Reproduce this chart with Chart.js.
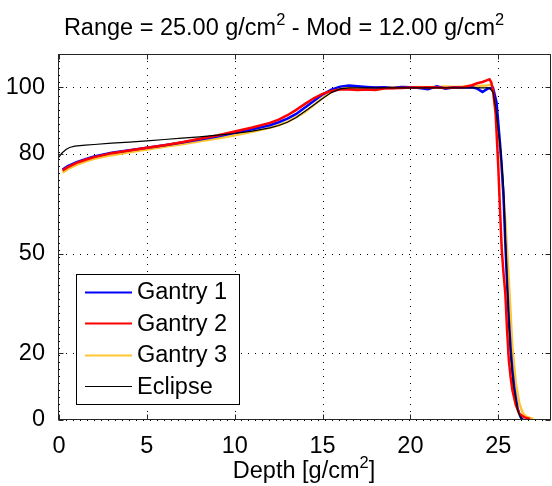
<!DOCTYPE html>
<html>
<head>
<meta charset="utf-8">
<title>Range 25 - Mod 12</title>
<script src="https://cdn.jsdelivr.net/npm/chart.js@4.4.0/dist/chart.umd.min.js"></script>
<style>
    html, body { margin: 0; padding: 0; background: #fff; }
    canvas { display: block; }
</style>
</head>
<body>
<canvas id="graficoPdd" width="552" height="486"></canvas>
<script>
// Curvas de dose em profundidade (profundidade em g/cm2, dose relativa em %)
const profGantry1 = [0.2, 0.5, 1, 1.5, 2, 3, 4, 5, 6, 7, 8, 9, 10, 11, 12, 12.5, 13, 13.5, 14, 14.5, 15, 15.5, 16, 16.5, 17, 17.5, 18, 18.5, 19, 19.5, 20, 20.5, 21, 21.5, 22, 22.5, 23, 23.5, 23.8, 24.1, 24.4, 24.7, 24.9, 25.1, 25.2, 25.3, 25.4, 25.5, 25.6, 25.7, 25.8, 25.9, 26.0, 26.1, 26.2, 26.3, 26.4];
const doseGantry1 = [75.3, 76.3, 77.5, 78.4, 79.2, 80.3, 81.1, 81.8, 82.6, 83.4, 84.3, 85.2, 86.3, 87.4, 88.6, 89.5, 90.6, 92.0, 93.9, 95.9, 97.8, 99.3, 100.2, 100.5, 100.3, 100.1, 99.9, 100.0, 99.8, 100.1, 100.0, 99.8, 99.4, 100.3, 99.6, 100.0, 99.9, 100.0, 99.6, 98.6, 99.6, 99.8, 95.5, 83.0, 76.0, 67.0, 53.0, 41.0, 30.0, 21.5, 15.0, 10.0, 6.5, 3.5, 1.8, 0.6, 0.1];

const profGantry2 = [0.2, 0.5, 1, 1.5, 2, 3, 4, 5, 6, 7, 8, 9, 10, 11, 12, 12.5, 13, 13.5, 14, 14.5, 15, 15.5, 16, 16.5, 17, 17.5, 18, 18.5, 19, 19.5, 20, 20.5, 21, 21.5, 22, 22.5, 23, 23.5, 23.8, 24.1, 24.3, 24.5, 24.6, 24.7, 24.85, 25.0, 25.1, 25.2, 25.3, 25.4, 25.5, 25.6, 25.7, 25.8, 26.0, 26.2, 26.5, 26.8];
const doseGantry2 = [75.0, 76.0, 77.3, 78.2, 79.0, 80.2, 81.0, 81.8, 82.6, 83.5, 84.5, 85.5, 86.7, 87.9, 89.3, 90.3, 91.6, 93.2, 95.0, 96.7, 98.0, 98.9, 99.3, 99.3, 99.2, 99.3, 99.2, 99.6, 99.7, 99.8, 99.9, 99.9, 100.0, 99.9, 99.8, 99.9, 100.0, 100.6, 101.2, 101.6, 102.0, 102.4, 101.5, 99.0, 92.0, 76.0, 63.0, 51.0, 44.0, 38.0, 27.0, 18.0, 13.0, 9.0, 4.5, 1.8, 0.8, 0.3];

const profGantry3 = [0.2, 0.5, 1, 1.5, 2, 3, 4, 5, 6, 7, 8, 9, 10, 11, 12, 12.5, 13, 13.5, 14, 14.5, 15, 15.5, 16, 16.5, 17, 17.5, 18, 18.5, 19, 19.5, 20, 20.5, 21, 21.5, 22, 22.5, 23, 23.5, 24, 24.3, 24.6, 24.8, 25.0, 25.2, 25.4, 25.6, 25.8, 26.0, 26.2, 26.4, 26.6, 26.8, 27.0];
const doseGantry3 = [74.3, 75.4, 76.7, 77.7, 78.5, 79.6, 80.5, 81.3, 82.1, 82.9, 83.8, 84.6, 85.6, 86.6, 87.8, 88.6, 89.6, 91.0, 92.6, 94.7, 96.8, 98.6, 99.7, 99.9, 99.8, 99.9, 100.0, 99.9, 100.0, 100.1, 100.0, 100.1, 100.0, 100.1, 100.2, 100.1, 100.2, 100.4, 100.4, 100.5, 100.8, 98.0, 88.0, 74.0, 60.0, 42.0, 22.0, 11.0, 5.0, 2.0, 1.0, 0.6, 0.3];

const profEclipse = [0, 0.1, 0.2, 0.4, 0.6, 0.9, 1.5, 2, 3, 4, 5, 6, 7, 8, 9, 10, 11, 12, 12.5, 13, 13.5, 14, 14.5, 15, 15.5, 16, 16.5, 17, 18, 19, 20, 21, 22, 23, 24, 24.5, 24.7, 24.85, 25.0, 25.15, 25.3, 25.4, 25.55, 25.7, 25.85, 26.0, 26.1, 26.25, 26.4];
const doseEclipse = [79.0, 79.8, 80.4, 81.3, 81.9, 82.3, 82.6, 82.8, 83.2, 83.5, 83.9, 84.3, 84.7, 85.1, 85.6, 86.1, 86.8, 87.8, 88.5, 89.5, 90.9, 92.8, 94.7, 96.6, 98.4, 99.5, 99.8, 99.8, 99.8, 99.8, 99.8, 99.8, 99.8, 99.8, 99.8, 99.8, 98.5, 94.0, 87.0, 80.5, 70.0, 55.0, 36.0, 20.0, 11.0, 6.0, 3.0, 1.0, 0.2];

const ticksX = [0, 5, 10, 15, 20, 25];
const ticksY = [0, 20, 50, 80, 100];

const nomes = ['Gantry 1', 'Gantry 2', 'Gantry 3', 'Eclipse'];
const cores = ['#0000ff', '#ff0000', '#ffc533', '#000000'];
const espessuras = [2.5, 2.5, 2.5, 1.2];

const FAMILIA = "'Liberation Sans', Arial, Helvetica, sans-serif";
const TAM = 23.5;

function pontos(prof, dose) {
    return prof.map((x, i) => ({ x: x, y: dose[i] }));
}

// Escreve texto com expoente (ex.: g/cm^2), centrado em xCentro
function textoComExpoente(ctx, partes, xCentro, yBase, tam) {
    let total = 0;
    partes.forEach(p => {
        ctx.font = (p[1] ? tam * 0.7 : tam) + 'px ' + FAMILIA;
        total += ctx.measureText(p[0]).width;
    });
    let x = xCentro - total / 2;
    ctx.textAlign = 'left';
    ctx.textBaseline = 'alphabetic';
    partes.forEach(p => {
        ctx.font = (p[1] ? tam * 0.7 : tam) + 'px ' + FAMILIA;
        ctx.fillText(p[0], x, p[1] ? yBase - tam * 0.42 : yBase);
        x += ctx.measureText(p[0]).width;
    });
}

// Grade pontilhada, moldura, marcas internas, legenda e textos
const moldura = {
    id: 'moldura',
    beforeDatasetsDraw(chart) {
        const ctx = chart.ctx;
        const a = chart.chartArea;
        const sx = chart.scales.x, sy = chart.scales.y;
        ctx.save();
        ctx.strokeStyle = '#000';
        ctx.lineWidth = 1;
        ctx.setLineDash([1, 6]);
        ticksX.forEach(v => {
            const px = Math.round(sx.getPixelForValue(v)) + 0.5;
            ctx.beginPath(); ctx.moveTo(px, a.top); ctx.lineTo(px, a.bottom); ctx.stroke();
        });
        ticksY.forEach(v => {
            const py = Math.round(sy.getPixelForValue(v)) + 0.5;
            ctx.beginPath(); ctx.moveTo(a.left, py); ctx.lineTo(a.right, py); ctx.stroke();
        });
        ctx.restore();
    },
    afterDatasetsDraw(chart) {
        const ctx = chart.ctx;
        const a = chart.chartArea;
        const sx = chart.scales.x, sy = chart.scales.y;
        ctx.save();
        ctx.setLineDash([]);
        ctx.strokeStyle = '#262626';
        ctx.lineWidth = 1;
        const L = Math.round(a.left) - 0.5, R = Math.round(a.right) - 0.5;
        const T = Math.round(a.top) + 0.5, B = Math.round(a.bottom) - 0.5;
        ctx.strokeRect(L, T, R - L, B - T);

        // marcas para dentro do eixo
        const m = 5;
        ticksX.forEach(v => {
            const px = Math.round(sx.getPixelForValue(v)) + 0.5;
            ctx.beginPath();
            ctx.moveTo(px, B); ctx.lineTo(px, B - m);
            ctx.moveTo(px, T); ctx.lineTo(px, T + m);
            ctx.stroke();
        });
        ticksY.forEach(v => {
            const py = Math.round(sy.getPixelForValue(v)) + 0.5;
            ctx.beginPath();
            ctx.moveTo(L, py); ctx.lineTo(L + m, py);
            ctx.moveTo(R, py); ctx.lineTo(R - m, py);
            ctx.stroke();
        });

        // legenda dentro do gráfico
        const lx = 76.5, ly = 274.5, lw = 163, lh = 130;
        ctx.fillStyle = '#fff';
        ctx.fillRect(lx, ly, lw, lh);
        ctx.strokeStyle = '#000';
        ctx.strokeRect(lx, ly, lw, lh);
        ctx.font = TAM + 'px ' + FAMILIA;
        ctx.textAlign = 'left';
        ctx.textBaseline = 'middle';
        nomes.forEach((nome, i) => {
            const y = 292 + i * 31.4;
            ctx.strokeStyle = cores[i];
            ctx.lineWidth = i < 3 ? 2 : 1;
            ctx.beginPath(); ctx.moveTo(85, Math.round(y) + 0.5); ctx.lineTo(132, Math.round(y) + 0.5); ctx.stroke();
            ctx.fillStyle = '#000';
            ctx.fillText(nome, 137, y + 1);
        });

        // título e rótulo do eixo x
        ctx.fillStyle = '#000';
        textoComExpoente(ctx, [['Range = 25.00 g/cm', false], ['2', true], [' - Mod = 12.00 g/cm', false], ['2', true]], 284, 35, TAM);
        textoComExpoente(ctx, [['Depth [g/cm', false], ['2', true], [']', false]], 304, 478, TAM);
        ctx.restore();
    }
};

const series = [
    pontos(profGantry1, doseGantry1),
    pontos(profGantry2, doseGantry2),
    pontos(profGantry3, doseGantry3),
    pontos(profEclipse, doseEclipse)
];
const ordens = [2, 1, 3, 0];

const ctx = document.getElementById('graficoPdd').getContext('2d');
window.graficoPdd = new Chart(ctx, {
    type: 'line',
    data: {
        datasets: series.map((dados, i) => ({
            label: nomes[i],
            data: dados,
            borderColor: cores[i],
            backgroundColor: cores[i],
            borderWidth: espessuras[i],
            pointRadius: 0,
            tension: 0,
            fill: false,
            order: ordens[i]
        }))
    },
    options: {
        responsive: false,
        animation: false,
        layout: { padding: { top: 54, right: 1, left: 0, bottom: 0 } },
        plugins: {
            legend: { display: false },
            title: { display: false },
            tooltip: { enabled: false }
        },
        scales: {
            x: {
                type: 'linear',
                min: 0,
                max: 28,
                grid: { display: false },
                border: { display: false },
                ticks: { color: '#000', padding: 4, maxRotation: 0, font: { family: FAMILIA, size: TAM } },
                afterBuildTicks: s => { s.ticks = ticksX.map(v => ({ value: v })); },
                afterFit: s => { s.height = 66; }
            },
            y: {
                type: 'linear',
                min: 0,
                max: 110,
                grid: { display: false },
                border: { display: false },
                ticks: { color: '#000', padding: 6, font: { family: FAMILIA, size: TAM } },
                afterBuildTicks: s => { s.ticks = ticksY.map(v => ({ value: v })); },
                afterFit: s => { s.width = 59; }
            }
        }
    },
    plugins: [moldura]
});
</script>
</body>
</html>
